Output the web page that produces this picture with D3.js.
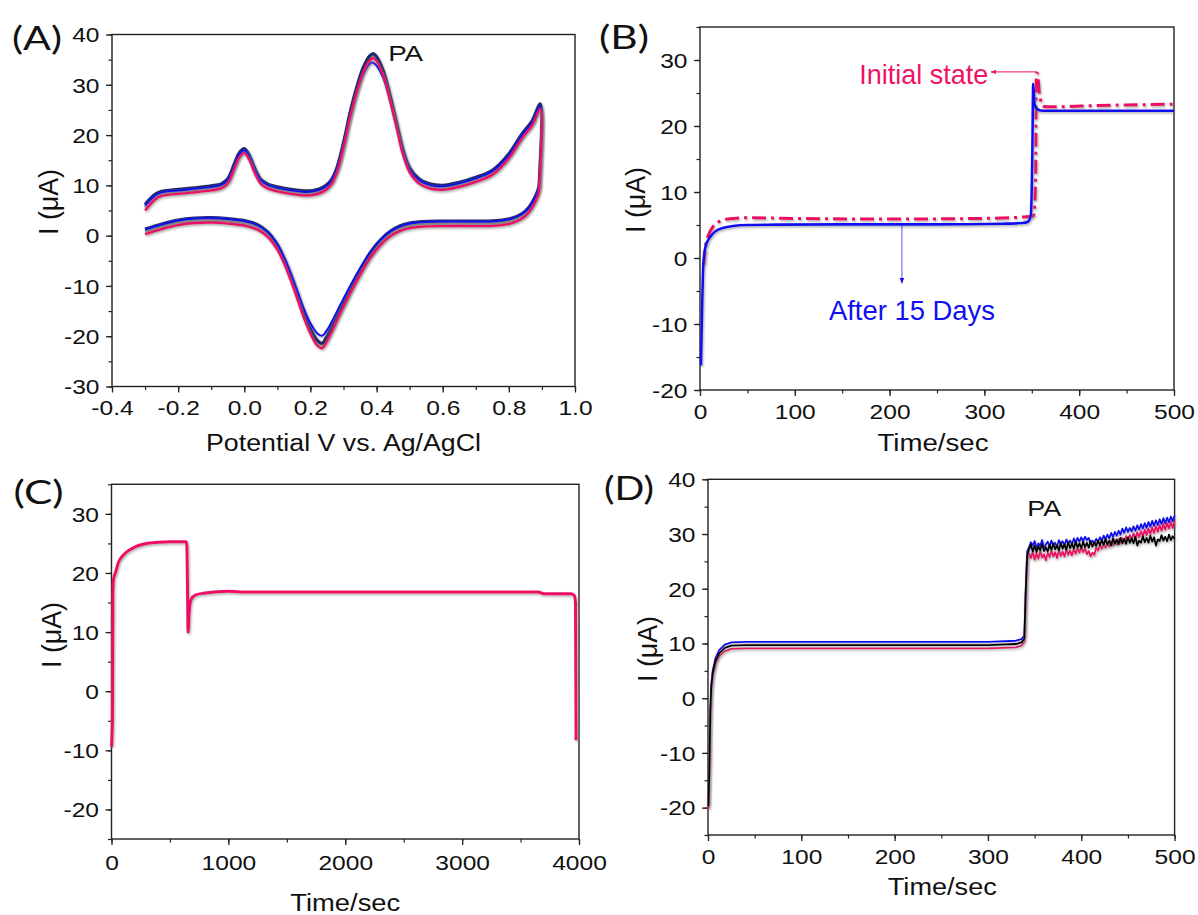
<!DOCTYPE html>
<html><head><meta charset="utf-8">
<script src="https://cdn.jsdelivr.net/npm/d3@7"></script>
<style>
html,body{margin:0;padding:0;background:#fff;}
svg text{font-family:"Liberation Sans",Arial,sans-serif;fill:#111;}
</style></head>
<body><svg id="c" width="1198" height="915"></svg>
<script>
// ---------- DATA ----------
// Panel A: cyclic voltammograms (forward then reverse scan)
const cvE = [-0.30,-0.27,-0.25,-0.20,-0.15,-0.10,-0.07,-0.05,-0.03,-0.015,0.0,0.015,0.03,0.05,0.07,0.10,0.14,0.18,0.21,0.24,0.26,0.28,0.30,0.32,0.34,0.36,0.38,0.39,0.40,0.42,0.44,0.46,0.48,0.50,0.53,0.56,0.60,0.65,0.70,0.75,0.80,0.84,0.87,0.895,
  0.893,0.89,0.88,0.86,0.84,0.81,0.78,0.74,0.70,0.60,0.54,0.50,0.47,0.44,0.41,0.38,0.35,0.32,0.29,0.27,0.25,0.235,0.22,0.20,0.18,0.16,0.14,0.12,0.10,0.07,0.04,0.0,-0.05,-0.10,-0.15,-0.20,-0.25,-0.30];
const cvNavy = [6.2,8.2,8.8,9.2,9.5,9.9,10.3,11.3,14.3,16.5,17.3,16.0,13.6,11.2,10.3,9.7,9.2,8.9,9.0,9.7,10.8,13.5,18.5,24.5,29.5,33.5,35.8,36.2,35.6,32.8,28.0,22.5,17.0,13.5,11.2,10.3,10.0,10.6,11.6,13.0,16.3,20.3,22.8,26.2,
  12.0,9.5,7.8,5.6,4.4,3.5,3.1,2.9,2.9,2.9,2.8,2.5,1.9,0.8,-1.0,-3.5,-6.8,-10.5,-14.5,-17.3,-20.0,-21.4,-20.8,-18.5,-15.3,-11.5,-7.8,-4.5,-1.8,0.8,2.2,3.0,3.4,3.6,3.5,3.1,2.3,1.3];
const cvBlue = [6.0,8.0,8.6,9.0,9.3,9.7,10.1,11.1,14.0,16.2,17.0,15.7,13.3,11.0,10.1,9.5,9.0,8.7,8.8,9.5,10.6,13.2,18.0,23.8,28.5,32.2,34.2,34.4,33.8,31.4,27.0,21.8,16.6,13.2,11.0,10.1,9.8,10.4,11.4,12.8,16.0,20.0,22.5,25.8,
  11.8,9.3,7.6,5.5,4.3,3.4,3.0,2.8,2.8,2.8,2.7,2.4,1.8,0.8,-0.9,-3.3,-6.5,-10.0,-13.8,-16.4,-18.8,-19.9,-19.4,-17.4,-14.5,-10.9,-7.4,-4.3,-1.7,0.8,2.1,2.9,3.3,3.5,3.4,3.0,2.2,1.2];
const cvGray = [5.6,7.7,8.3,8.7,9.0,9.4,9.8,10.8,13.8,16.0,16.8,15.5,13.1,10.7,9.8,9.2,8.7,8.4,8.5,9.2,10.3,13.0,18.0,24.0,29.0,33.0,35.3,35.7,35.1,32.3,27.5,22.0,16.5,13.0,10.7,9.8,9.5,10.1,11.1,12.5,15.8,19.8,22.3,25.7,
  11.5,9.0,7.2,5.0,3.8,2.9,2.5,2.3,2.3,2.3,2.2,1.9,1.3,0.2,-1.6,-4.1,-7.4,-11.1,-15.1,-17.9,-20.5,-21.8,-21.3,-19.0,-15.8,-12.0,-8.3,-5.0,-2.4,0.2,1.6,2.4,2.8,3.0,2.9,2.5,1.7,0.7];
const cvPink = [5.0,7.2,7.9,8.3,8.6,9.0,9.4,10.4,13.4,15.6,16.4,15.1,12.7,10.3,9.4,8.8,8.3,8.0,8.1,8.8,9.9,12.6,17.6,23.6,28.6,32.6,34.9,35.3,34.7,31.9,27.1,21.6,16.1,12.6,10.3,9.4,9.1,9.7,10.7,12.1,15.4,19.4,21.9,25.2,
  11.0,8.5,6.8,4.6,3.4,2.5,2.1,1.9,1.9,1.9,1.8,1.5,0.9,-0.2,-2.0,-4.5,-7.8,-11.5,-15.5,-18.3,-21.0,-22.4,-21.8,-19.5,-16.3,-12.5,-8.8,-5.5,-2.8,-0.2,1.2,2.0,2.4,2.6,2.5,2.1,1.3,0.3];

// Panel B: stability amperometry
const bAfterT = [1,2,3,4,6,9,13,18,25,35,50,80,150,250,320,340,346,349,350.5,351.5,353,356,362,380,450,500];
const bAfterI = [-16.3,-9,-3,0,1.8,2.8,3.6,4.2,4.6,4.85,5.0,5.05,5.1,5.1,5.2,5.3,5.5,6.5,15,26.4,23.3,22.5,22.3,22.3,22.3,22.3];
const bInitT = [4,6,9,13,18,25,35,50,100,200,300,340,352,354,354.8,356,358,362,370,420,500];
const bInitI = [-1,2.0,3.5,4.6,5.3,5.8,6.0,6.1,6.0,5.9,6.0,6.2,6.4,12,28.0,28.0,25,23.0,22.9,23.1,23.3];

// Panel C: long-term amperometry
const cT = [0,8,12,18,33,60,100,132,200,297,400,500,640,645,650,655,665,680,720,800,1000,1100,2000,3000,3650,3700,3930,3960,3970,3975];
const cI = [-9.4,-5,17,19,20,21.8,23,23.6,24.4,25.0,25.2,25.3,25.3,24.5,18,10.0,13.5,15.5,16.3,16.6,16.9,16.8,16.8,16.8,16.8,16.5,16.5,16.2,15,-8.3];

// Panel D: reproducibility amperometry (three electrodes)
const dT = [0.5,1.5,2.5,3.5,5,8,12,18,25,40,150,300,330,336,339,340.5,342,
  344,346,348,350,352,354,356,358,360,362,
  364,366,368,370,372,374,376,378,380,382,
  384,386,388,390,392,394,396,398,400,402,
  404,406,408,410,412,414,416,418,420,422,
  424,426,428,430,432,434,436,438,440,442,
  444,446,448,450,452,454,456,458,460,462,
  464,466,468,470,472,474,476,478,480,482,
  484,486,488,490,492,494,496,498,500];
const dBlue = [-19.5,-12,-2,2.5,5.0,7.3,8.8,9.8,10.2,10.3,10.3,10.3,10.5,10.8,11.5,20,26.8,
  27.6,28.5,27.9,28.7,27.4,28.3,27.8,28.9,27.5,28.1,
  28.6,27.7,28.8,27.9,28.4,27.6,28.9,28.2,28.7,27.9,
  29.0,28.3,28.8,28.1,29.2,28.4,29.3,28.6,29.4,28.7,
  29.5,28.9,29.3,28.2,28.8,28.3,29.1,28.6,29.4,28.8,
  29.7,29.0,29.9,29.2,30.2,29.5,30.4,29.7,30.6,29.9,
  31.0,30.2,31.2,30.4,31.1,30.5,31.4,30.6,31.6,30.8,
  31.8,31.0,32.0,31.1,32.2,31.3,32.4,31.5,32.5,31.6,
  32.7,31.8,32.9,31.9,33.0,32.1,33.2,32.3,33.4];
const dPink = [-20.3,-13,-3,1.5,4.0,6.3,7.7,8.6,9.0,9.1,9.1,9.1,9.3,9.6,10.3,19,25.5,
  26.4,25.6,26.8,25.3,26.5,25.5,26.9,25.7,26.3,25.2,
  26.6,25.8,27.0,25.9,26.7,25.6,27.1,26.0,26.8,25.9,
  27.2,26.2,27.0,26.1,27.3,26.4,27.5,26.6,27.6,26.7,
  27.4,26.3,26.9,25.9,26.6,26.2,27.6,27.0,28.0,27.3,
  28.2,27.5,28.4,27.7,28.7,27.9,28.9,28.1,29.1,28.3,
  29.3,28.5,29.6,28.8,29.8,29.0,30.1,29.2,30.3,29.4,
  30.5,29.6,30.8,29.8,31.0,30.0,31.2,30.2,31.4,30.4,
  31.6,30.6,31.8,30.8,32.0,31.0,32.2,31.1,32.3];
const dBlack = [-19.8,-12.5,-2.5,2.0,4.5,6.8,8.2,9.2,9.6,9.7,9.7,9.7,9.9,10.2,10.9,19.5,26.0,
  27.2,28.1,26.8,27.9,26.7,27.8,27.0,28.2,26.9,27.6,
  26.8,28.0,27.1,28.3,27.2,27.9,27.0,28.4,27.3,28.1,
  27.1,28.5,27.4,28.2,27.3,28.6,27.5,28.3,27.4,28.6,
  27.6,28.4,27.5,28.7,27.7,28.5,27.8,28.8,27.9,28.9,
  28.0,29.1,28.1,28.8,27.9,29.2,28.2,29.0,28.1,29.3,
  28.3,29.1,28.2,29.4,28.4,29.2,28.3,29.5,27.9,28.8,
  28.4,29.6,28.5,29.3,28.4,29.7,28.6,29.4,27.9,29.0,
  28.7,29.8,28.8,29.5,28.7,29.9,28.9,29.6,29.1];

// Tick values
const aXTicks = [-0.4,-0.2,0.0,0.2,0.4,0.6,0.8,1.0];
const aYTicks = [-30,-20,-10,0,10,20,30,40];
const bXTicks = [0,100,200,300,400,500];
const bYTicks = [-20,-10,0,10,20,30];
const cXTicks = [0,1000,2000,3000,4000];
const cYTicks = [-20,-10,0,10,20,30];
const dXTicks = [0,100,200,300,400,500];
const dYTicks = [-20,-10,0,10,20,30,40];

// ---------- DRAW ----------
const svg = d3.select("#c");
const defs = svg.append("defs");
defs.append("filter").attr("id","sh").attr("x","-5%").attr("y","-5%").attr("width","110%").attr("height","110%")
  .append("feDropShadow").attr("dx",1).attr("dy",1.5).attr("stdDeviation",1)
  .attr("flood-color","#777").attr("flood-opacity",0.6);
defs.append("marker").attr("id","arrP").attr("viewBox","0 0 10 10").attr("refX",9).attr("refY",5)
  .attr("markerWidth",6).attr("markerHeight",6).attr("orient","auto")
  .append("path").attr("d","M0,1 L10,5 L0,9 z").attr("fill","#ee1166");
defs.append("marker").attr("id","arrB").attr("viewBox","0 0 10 10").attr("refX",9).attr("refY",5)
  .attr("markerWidth",6).attr("markerHeight",6).attr("orient","auto")
  .append("path").attr("d","M0,1 L10,5 L0,9 z").attr("fill","#1010f0");

const SX = 1.17;
const fmtMinus = f => v => d3.format(f)(v).replace("\u2212","-");

function panel(o){
  const x = d3.scaleLinear().domain(o.xd).range([o.l,o.r]);
  const y = d3.scaleLinear().domain(o.yd).range([o.b,o.t]);
  const xMinor = d3.range(o.xd[0], o.xd[1]+1e-9, o.xMinorStep);
  const yMinor = d3.range(o.yd[0], o.yd[1]+1e-9, o.yMinorStep);
  svg.append("g").attr("transform",`translate(0,${o.b})`)
    .call(d3.axisBottom(x).tickValues(xMinor).tickSize(3.5).tickFormat(""))
    .call(g=>g.select(".domain").remove()).selectAll("line").attr("stroke","#222").attr("stroke-width",1.2);
  svg.append("g").attr("transform",`translate(${o.l},0)`)
    .call(d3.axisLeft(y).tickValues(yMinor).tickSize(3.5).tickFormat(""))
    .call(g=>g.select(".domain").remove()).selectAll("line").attr("stroke","#222").attr("stroke-width",1.2);
  const gx = svg.append("g").attr("transform",`translate(0,${o.b})`)
    .call(d3.axisBottom(x).tickValues(o.xTicks).tickSize(6).tickFormat(fmtMinus(o.xFmt)))
    .call(g=>g.select(".domain").remove());
  gx.selectAll("line").attr("stroke","#222").attr("stroke-width",1.3);
  gx.selectAll("text").attr("y",o.xLabOff).attr("dy","0.35em").attr("font-size",21)
    .attr("transform",`scale(${SX},1)`).attr("fill","#111");
  const gy = svg.append("g").attr("transform",`translate(${o.l},0)`)
    .call(d3.axisLeft(y).tickValues(o.yTicks).tickSize(6).tickFormat(fmtMinus("d")))
    .call(g=>g.select(".domain").remove());
  gy.selectAll("line").attr("stroke","#222").attr("stroke-width",1.3);
  gy.selectAll("text").attr("x",-12.5/SX).attr("dy","0.35em").attr("font-size",21)
    .attr("transform",`scale(${SX},1)`).attr("fill","#111");
  svg.append("rect").attr("x",o.l).attr("y",o.t).attr("width",o.r-o.l).attr("height",o.b-o.t)
    .attr("fill","none").attr("stroke","#222").attr("stroke-width",1.4);
  svg.append("text").attr("x",(o.l+o.r)/2+o.xTitleDx).attr("y",o.xTitleY).attr("text-anchor","middle")
    .attr("dominant-baseline","central").attr("font-size",23)
    .attr("textLength",o.xTitleLen).attr("lengthAdjust","spacingAndGlyphs").text(o.xTitle);
  svg.append("text").attr("transform",`translate(${o.yTitleX},${o.yTitleY}) rotate(-90) scale(1,${SX})`)
    .attr("text-anchor","middle").attr("dominant-baseline","central").attr("font-size",23)
    .attr("textLength",66).attr("lengthAdjust","spacingAndGlyphs").text("I (\u03bcA)");
  svg.append("text").attr("x",o.letX).attr("y",o.letY).attr("text-anchor","middle")
    .attr("dominant-baseline","central").attr("font-size",33)
    .style("font-family","Lato, 'Open Sans', sans-serif")
    .attr("textLength",50).attr("lengthAdjust","spacingAndGlyphs").text(o.letter);
  return {x,y};
}

function drawLine(sc, xs, ys, color, width, curve, dash){
  const pts = xs.map((v,i)=>[v,ys[i]]).filter(d=>d[1]!==undefined);
  const line = d3.line().x(d=>sc.x(d[0])).y(d=>sc.y(d[1])).curve(curve);
  const p = svg.append("path").datum(pts).attr("d",line).attr("fill","none")
    .attr("stroke",color).attr("stroke-width",width).attr("stroke-linejoin","round")
    .attr("filter","url(#sh)");
  if(dash) p.attr("stroke-dasharray",dash);
  return p;
}

const NAVY="#1b2a6b", BLUE="#1010f0", PINK="#ee1166", GRAY="#999999";

// Panel A
const A = panel({l:112,r:575,t:34.5,b:386.5,xd:[-0.4,1.0],yd:[-30,40],xMinorStep:0.1,yMinorStep:5,
  xTicks:aXTicks,yTicks:aYTicks,xFmt:".1f",xLabOff:21.5,xTitle:"Potential V vs. Ag/AgCl",xTitleY:443,xTitleLen:275,xTitleDx:0,
  yTitleX:48,yTitleY:202,letter:"(A)",letX:37,letY:37});
const cr = d3.curveCatmullRom.alpha(0.5);
drawLine(A,cvE,cvGray,GRAY,3,cr);
drawLine(A,cvE,cvNavy,NAVY,3.2,cr);
drawLine(A,cvE,cvBlue,BLUE,2,cr);
drawLine(A,cvE,cvPink,PINK,2.4,cr);
svg.append("text").attr("x",A.x(0.435)).attr("y",A.y(36.3)).attr("dominant-baseline","central")
  .attr("font-size",22).attr("textLength",35).attr("lengthAdjust","spacingAndGlyphs").text("PA");

// Panel B
const B = panel({l:700,r:1174,t:27,b:390,xd:[0,500],yd:[-20,35],xMinorStep:50,yMinorStep:5,
  xTicks:bXTicks,yTicks:bYTicks,xFmt:"d",xLabOff:22,xTitle:"Time/sec",xTitleY:443,xTitleLen:111,xTitleDx:-4,
  yTitleX:635,yTitleY:200,letter:"(B)",letX:624,letY:36});
const mx = d3.curveMonotoneX;
drawLine(B,bInitT,bInitI,PINK,3,mx,"14,5,3,5");
drawLine(B,bAfterT,bAfterI,BLUE,2.6,mx);
svg.append("line").attr("x1",B.x(355.5)).attr("y1",B.y(28.2)).attr("x2",B.x(307)).attr("y2",B.y(28.2))
  .attr("stroke",PINK).attr("stroke-width",1).attr("marker-end","url(#arrP)");
svg.append("text").attr("x",B.x(168)).attr("y",B.y(27.8)).attr("dominant-baseline","central")
  .attr("font-size",28).attr("textLength",129).attr("lengthAdjust","spacingAndGlyphs")
  .style("fill",PINK).text("Initial state");
svg.append("line").attr("x1",B.x(213)).attr("y1",B.y(5.0)).attr("x2",B.x(213)).attr("y2",B.y(-3.8))
  .attr("stroke",BLUE).attr("stroke-width",1).attr("stroke-opacity",0.7).attr("marker-end","url(#arrB)");
svg.append("text").attr("x",B.x(136)).attr("y",B.y(-8.0)).attr("dominant-baseline","central")
  .attr("font-size",28).attr("textLength",166).attr("lengthAdjust","spacingAndGlyphs")
  .style("fill",BLUE).text("After 15 Days");

// Panel C
const C = panel({l:111.5,r:579,t:484.3,b:839,xd:[0,4000],yd:[-25,35],xMinorStep:500,yMinorStep:5,
  xTicks:cXTicks,yTicks:cYTicks,xFmt:"d",xLabOff:24,xTitle:"Time/sec",xTitleY:903,xTitleLen:110,xTitleDx:0,
  yTitleX:51,yTitleY:635,letter:"(C)",letX:38.5,letY:491});
drawLine(C,cT,cI,PINK,3,mx);

// Panel D
const D = panel({l:708,r:1174.6,t:479.3,b:835,xd:[0,500],yd:[-25,40],xMinorStep:50,yMinorStep:5,
  xTicks:dXTicks,yTicks:dYTicks,xFmt:"d",xLabOff:22,xTitle:"Time/sec",xTitleY:887,xTitleLen:109,xTitleDx:1,
  yTitleX:647,yTitleY:649,letter:"(D)",letX:629,letY:487});
drawLine(D,dT,dBlue,BLUE,1.8,d3.curveLinear);
drawLine(D,dT,dPink,PINK,1.8,d3.curveLinear);
drawLine(D,dT,dBlack,"#000",1.8,d3.curveLinear);
svg.append("text").attr("x",D.x(342)).attr("y",D.y(34.6)).attr("dominant-baseline","central")
  .attr("font-size",22).attr("textLength",34).attr("lengthAdjust","spacingAndGlyphs").text("PA");
</script></body></html>
